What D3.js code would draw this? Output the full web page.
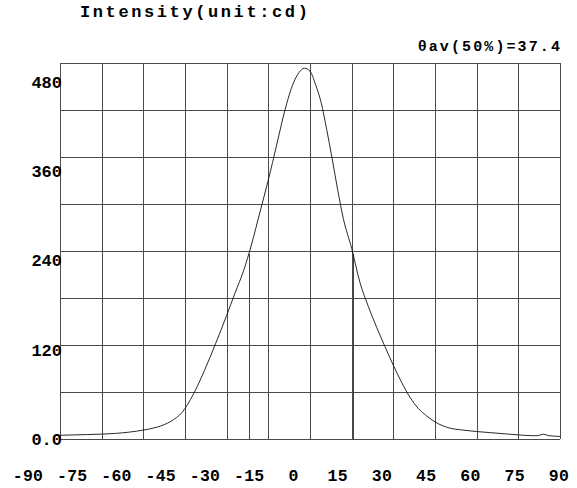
<!DOCTYPE html>
<html>
<head>
<meta charset="utf-8">
<script src="https://cdn.jsdelivr.net/npm/d3@7"></script>
<style>
  body { margin: 0; background: #fff; }
  text { font-family: "Liberation Mono", "DejaVu Sans Mono", monospace; font-weight: bold; fill: #000; }
</style>
</head>
<body>
<svg id="chart"></svg>
<script>
// angle (deg) and luminous intensity (cd)
let angles = [-90, -80, -70, -60, -55, -50, -46, -42, -38, -34, -30, -27, -24, -21, -18, -15, -12, -9, -6, -4, -2,
  0, 2, 4, 6, 8, 10, 12, 15, 18, 21, 24, 27, 30, 33, 36, 39, 42, 45, 50, 55, 60, 65, 70, 75, 80, 82, 84, 86, 90];
let intensity = [5, 6, 7.5, 12, 16, 24, 36, 60, 92, 128, 166, 196, 225, 262, 305, 348, 395, 442, 478, 492, 498,
  494, 476, 452, 416, 376, 334, 296, 256, 210, 178, 150, 124, 99, 76, 56, 41, 31, 23, 15, 12, 10, 8.5, 7, 5.5, 4.5, 4.5, 6.5, 4.5, 3.5];

let xTicks = [-90, -75, -60, -45, -30, -15, 0, 15, 30, 45, 60, 75, 90];
let yTicks = [0, 120, 240, 360, 480];
let yTickLabels = ['0.0', '120', '240', '360', '480'];
let halfAngles = [-21.9, 15.5]; // 50% intensity angles, width 37.4

let title = 'Intensity(unit:cd)';
let note = '\u03b8av(50%)=37.4';

let width = 577, height = 488;
let plot = { left: 60, right: 560, top: 63, bottom: 439 };
let yMax = 505;

let svg = d3.select('#chart')
  .attr('width', width)
  .attr('height', height);

let xScale = d3.scaleLinear()
  .domain([-90, 90])
  .range([plot.left, plot.right]);

let yScale = d3.scaleLinear()
  .domain([0, yMax])
  .range([plot.bottom, plot.top]);

// labels under the axis sit on their own even spacing
let xLabelScale = d3.scaleLinear()
  .domain([-90, 90])
  .range([28, 559]);

// grid
let grid = svg.append('g')
  .attr('stroke', '#4a4a4a')
  .attr('stroke-width', 1)
  .attr('shape-rendering', 'crispEdges');

grid.selectAll('.vline')
  .data(xTicks)
  .enter()
  .append('line')
  .attr('class', 'vline')
  .attr('x1', d => Math.round(xScale(d)) + 0.5)
  .attr('x2', d => Math.round(xScale(d)) + 0.5)
  .attr('y1', plot.top)
  .attr('y2', plot.bottom);

grid.selectAll('.hline')
  .data(d3.range(9).map(i => yMax * i / 8))
  .enter()
  .append('line')
  .attr('class', 'hline')
  .attr('x1', plot.left)
  .attr('x2', plot.right)
  .attr('y1', d => Math.round(yScale(d)) + 0.5)
  .attr('y2', d => Math.round(yScale(d)) + 0.5);

// 50% lines
let peak = d3.max(intensity);
svg.selectAll('.half')
  .data(halfAngles)
  .enter()
  .append('line')
  .attr('class', 'half')
  .attr('stroke', '#444')
  .attr('shape-rendering', 'crispEdges')
  .attr('x1', d => Math.round(xScale(d)) + 0.5)
  .attr('x2', d => Math.round(xScale(d)) + 0.5)
  .attr('y1', yScale(peak / 2))
  .attr('y2', plot.bottom);

// curve
let line = d3.line()
  .x((d, i) => xScale(angles[i]))
  .y(d => yScale(d))
  .curve(d3.curveMonotoneX);

svg.append('path')
  .datum(intensity)
  .attr('fill', 'none')
  .attr('stroke', '#111')
  .attr('stroke-width', 0.9)
  .attr('d', line);

// axis labels
svg.selectAll('.ylabel')
  .data(yTicks)
  .enter()
  .append('text')
  .attr('class', 'ylabel')
  .attr('x', 62)
  .attr('y', d => yScale(d) + 6)
  .attr('text-anchor', 'end')
  .style('font-size', '17px')
  .text((d, i) => yTickLabels[i]);

svg.selectAll('.xlabel')
  .data(xTicks)
  .enter()
  .append('text')
  .attr('class', 'xlabel')
  .attr('x', d => xLabelScale(d))
  .attr('y', 481)
  .attr('text-anchor', 'middle')
  .style('font-size', '16.5px')
  .style('letter-spacing', '0.3px')
  .text(d => d);

svg.append('text')
  .attr('x', 80)
  .attr('y', 17)
  .style('font-size', '17px')
  .style('letter-spacing', '2.6px')
  .text(title);

svg.append('text')
  .attr('x', 562)
  .attr('y', 51)
  .attr('text-anchor', 'end')
  .style('font-size', '15px')
  .style('letter-spacing', '2.1px')
  .text(note);
</script>
</body>
</html>
